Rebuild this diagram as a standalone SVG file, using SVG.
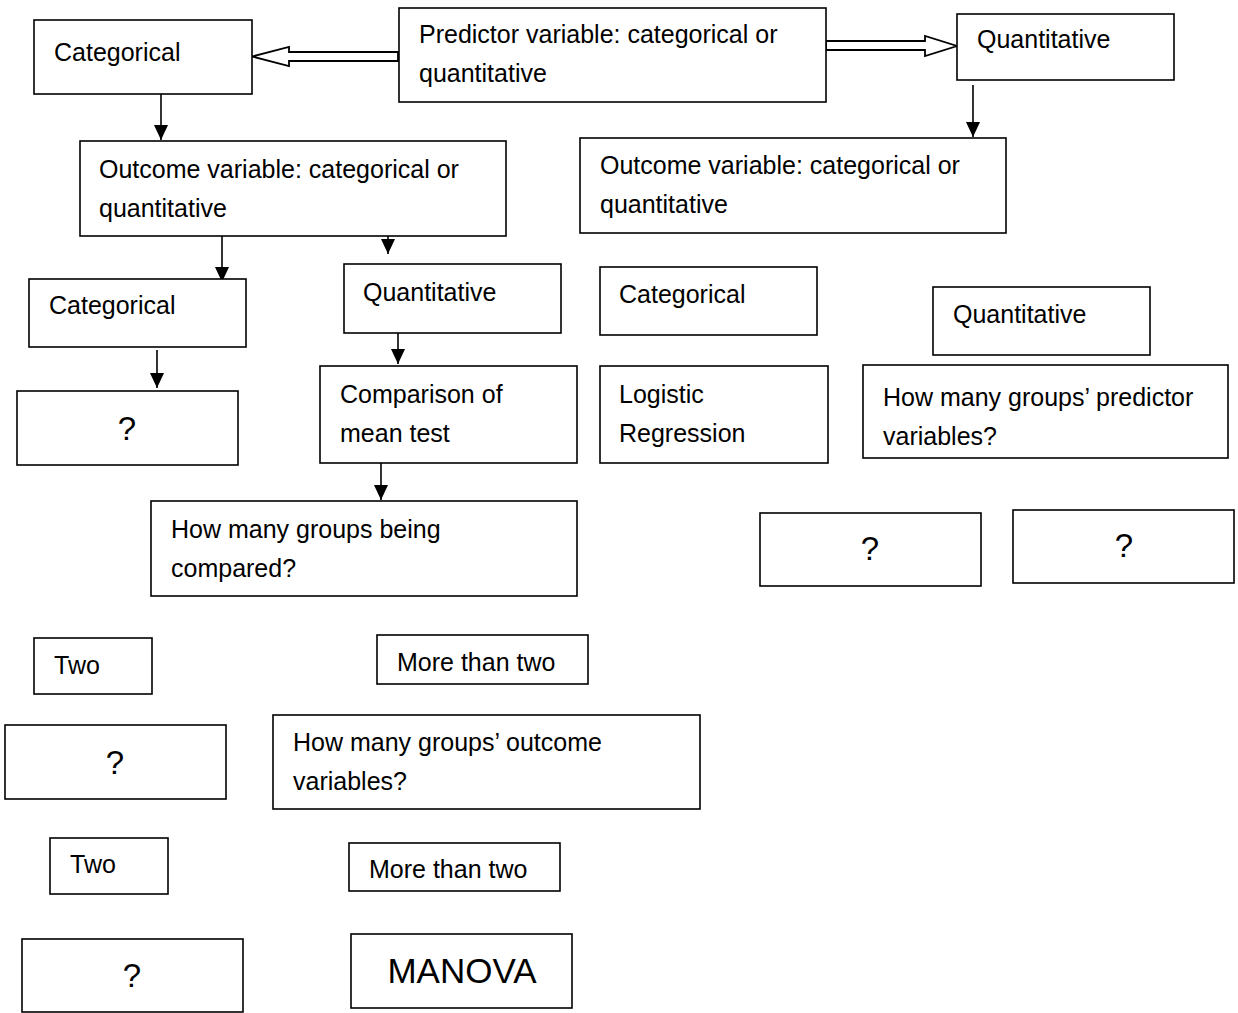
<svg xmlns="http://www.w3.org/2000/svg" width="1238" height="1013" viewBox="0 0 1238 1013">
<style>
.box{fill:#fff;stroke:#000;stroke-width:1.6}
.t{font-family:"Liberation Sans",Arial,sans-serif;font-size:25px;fill:#000}
.q{font-family:"Liberation Sans",Arial,sans-serif;font-size:33px;fill:#000;text-anchor:middle}
.big{font-family:"Liberation Sans",Arial,sans-serif;font-size:35px;fill:#000;text-anchor:middle}
.ln{stroke:#000;stroke-width:1.6;fill:none;marker-end:url(#ah)}
.blk{fill:#fff;stroke:#000;stroke-width:1.8;stroke-linejoin:miter}
</style>
<defs>
<marker id="ah" markerUnits="userSpaceOnUse" markerWidth="15" markerHeight="15" refX="15" refY="7.5" orient="auto">
<path d="M0,0.5 L15,7.5 L0,14.5 Z" fill="#000"/>
</marker>
</defs>
<rect width="1238" height="1013" fill="#fff"/>
<g id="connectors">
<polygon class="blk" points="398,52 289,52 289,47 252,56.5 289,66 289,61 398,61"/>
<polygon class="blk" points="826,41 925,41 925,36 957,46 925,56 925,50 826,50"/>
<line class="ln" x1="161" y1="94" x2="161" y2="140"/>
<line class="ln" x1="973" y1="85" x2="973" y2="137"/>
<line class="ln" x1="222" y1="233" x2="222" y2="282"/>
<line class="ln" x1="388" y1="227" x2="388" y2="254"/>
<line class="ln" x1="398" y1="322" x2="398" y2="364"/>
<line class="ln" x1="157" y1="350" x2="157" y2="388"/>
<line class="ln" x1="381" y1="462" x2="381" y2="500"/>
</g>
<g id="n-cat-top"><rect class="box" x="34" y="20" width="218" height="74"/><text class="t" x="54" y="61">Categorical</text></g>
<g id="n-predictor"><rect class="box" x="399" y="8" width="427" height="94"/><text class="t" x="419" y="43">Predictor variable: categorical or</text><text class="t" x="419" y="82">quantitative</text></g>
<g id="n-quant-top"><rect class="box" x="957" y="14" width="217" height="66"/><text class="t" x="977" y="48">Quantitative</text></g>
<g id="n-outcome-left"><rect class="box" x="80" y="141" width="426" height="95"/><text class="t" x="99" y="178">Outcome variable: categorical or</text><text class="t" x="99" y="217">quantitative</text></g>
<g id="n-outcome-right"><rect class="box" x="580" y="138" width="426" height="95"/><text class="t" x="600" y="174">Outcome variable: categorical or</text><text class="t" x="600" y="213">quantitative</text></g>
<g id="n-cat-l3"><rect class="box" x="29" y="279" width="217" height="68"/><text class="t" x="49" y="314">Categorical</text></g>
<g id="n-quant-mid"><rect class="box" x="344" y="264" width="217" height="69"/><text class="t" x="363" y="301">Quantitative</text></g>
<g id="n-cat-mid"><rect class="box" x="600" y="267" width="217" height="68"/><text class="t" x="619" y="303">Categorical</text></g>
<g id="n-quant-right"><rect class="box" x="933" y="287" width="217" height="68"/><text class="t" x="953" y="323">Quantitative</text></g>
<g id="n-q1"><rect class="box" x="17" y="391" width="221" height="74"/><text class="q" x="127" y="440">?</text></g>
<g id="n-comparison"><rect class="box" x="320" y="366" width="257" height="97"/><text class="t" x="340" y="403">Comparison of</text><text class="t" x="340" y="442">mean test</text></g>
<g id="n-logistic"><rect class="box" x="600" y="366" width="228" height="97"/><text class="t" x="619" y="403">Logistic</text><text class="t" x="619" y="442">Regression</text></g>
<g id="n-groups-predictor"><rect class="box" x="863" y="365" width="365" height="93"/><text class="t" x="883" y="406">How many groups’ predictor</text><text class="t" x="883" y="445">variables?</text></g>
<g id="n-groups-compared"><rect class="box" x="151" y="501" width="426" height="95"/><text class="t" x="171" y="538">How many groups being</text><text class="t" x="171" y="577">compared?</text></g>
<g id="n-q2"><rect class="box" x="760" y="513" width="221" height="73"/><text class="q" x="870" y="560">?</text></g>
<g id="n-q3"><rect class="box" x="1013" y="510" width="221" height="73"/><text class="q" x="1124" y="557">?</text></g>
<g id="n-two1"><rect class="box" x="34" y="638" width="118" height="56"/><text class="t" x="54" y="674">Two</text></g>
<g id="n-more1"><rect class="box" x="377" y="635" width="211" height="49"/><text class="t" x="397" y="671">More than two</text></g>
<g id="n-q4"><rect class="box" x="5" y="725" width="221" height="74"/><text class="q" x="115" y="774">?</text></g>
<g id="n-groups-outcome"><rect class="box" x="273" y="715" width="427" height="94"/><text class="t" x="293" y="751">How many groups’ outcome</text><text class="t" x="293" y="790">variables?</text></g>
<g id="n-two2"><rect class="box" x="50" y="838" width="118" height="56"/><text class="t" x="70" y="873">Two</text></g>
<g id="n-more2"><rect class="box" x="349" y="843" width="211" height="48"/><text class="t" x="369" y="878">More than two</text></g>
<g id="n-q5"><rect class="box" x="22" y="939" width="221" height="73"/><text class="q" x="132" y="987">?</text></g>
<g id="n-manova"><rect class="box" x="351" y="934" width="221" height="74"/><text class="big" x="462" y="983">MANOVA</text></g>
</svg>
